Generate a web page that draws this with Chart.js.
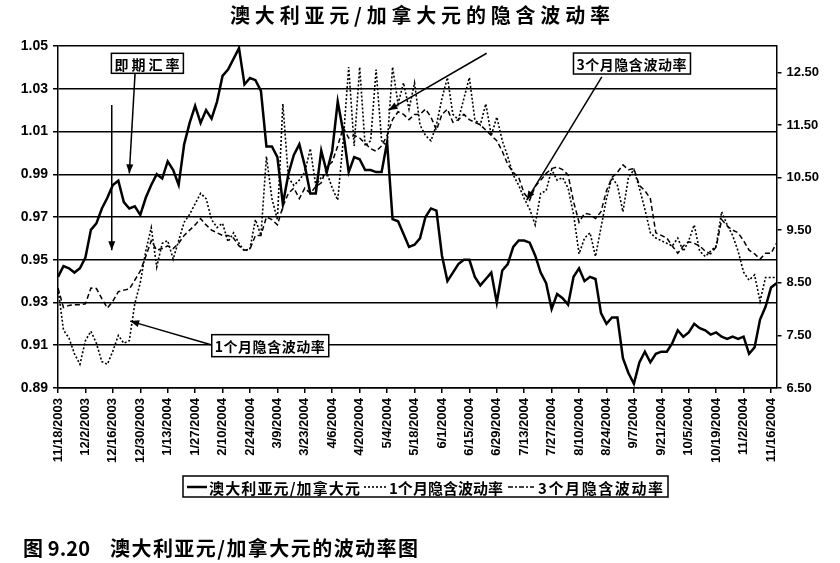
<!DOCTYPE html>
<html>
<head>
<meta charset="utf-8">
<script src="https://cdn.jsdelivr.net/npm/chart.js@4.4.1/dist/chart.umd.min.js"></script>
<style>
  html, body { margin: 0; padding: 0; background: #fff; }
</style>
</head>
<body>
<canvas id="volChart" width="840" height="563"></canvas>
<script>
// tick labels of the x axis, one every 10 business days
const tickLabels = ['11/18/2003', '12/2/2003', '12/16/2003', '12/30/2003', '1/13/2004', '1/27/2004',
  '2/10/2004', '2/24/2004', '3/9/2004', '3/23/2004', '4/6/2004', '4/20/2004', '5/4/2004',
  '5/18/2004', '6/1/2004', '6/15/2004', '6/29/2004', '7/13/2004', '7/27/2004', '8/10/2004',
  '8/24/2004', '9/7/2004', '9/21/2004', '10/5/2004', '10/19/2004', '11/2/2004', '11/16/2004'];
const leftTicks = [0.89, 0.91, 0.93, 0.95, 0.97, 0.99, 1.01, 1.03, 1.05];
const rightTicks = [6.5, 7.5, 8.5, 9.5, 10.5, 11.5, 12.5];

// one value every 2 business days
const spotRate = [
  0.942, 0.947, 0.946, 0.944, 0.946, 0.951, 0.964, 0.967, 0.974, 0.979,
  0.985, 0.987, 0.977, 0.974, 0.975, 0.971, 0.979, 0.985, 0.990, 0.988,
  0.996, 0.992, 0.985, 1.004, 1.014, 1.022, 1.014, 1.020, 1.016, 1.024,
  1.036, 1.039, 1.044, 1.049, 1.032, 1.035, 1.034, 1.029, 1.003, 1.003,
  0.998, 0.976, 0.990, 0.999, 1.004, 0.994, 0.981, 0.981, 1.001, 0.991,
  1.001, 1.024, 1.010, 0.991, 0.998, 0.997, 0.992, 0.992, 0.991, 0.991,
  1.005, 0.969, 0.968, 0.962, 0.956, 0.957, 0.960, 0.970, 0.974, 0.973,
  0.952, 0.940, 0.944, 0.948, 0.950, 0.950, 0.942, 0.938, 0.941, 0.944,
  0.930, 0.945, 0.948, 0.956, 0.959, 0.959, 0.958, 0.952, 0.944, 0.939,
  0.927, 0.934, 0.932, 0.929, 0.942, 0.946, 0.940, 0.942, 0.941, 0.925,
  0.920, 0.923, 0.923, 0.904, 0.897, 0.892, 0.902, 0.907, 0.902, 0.906,
  0.907, 0.907, 0.911, 0.917, 0.914, 0.916, 0.920, 0.918, 0.917, 0.915,
  0.916, 0.914, 0.913, 0.914, 0.913, 0.914, 0.906, 0.909, 0.922, 0.928,
  0.937, 0.939
];
const vol1M = [
  8.4, 7.6, 7.45, 7.15, 6.95, 7.4, 7.58, 7.35, 7.0, 6.95,
  7.2, 7.5, 7.35, 7.4, 8.1, 8.5, 9.1, 9.55, 8.8, 9.25,
  9.3, 8.95, 9.3, 9.65, 9.8, 10.0, 10.2, 10.1, 9.7, 9.55,
  9.63, 9.28, 9.45, 9.25, 9.1, 9.15, 9.7, 9.4, 10.9, 10.1,
  9.7, 11.9, 10.5, 10.35, 10.45, 10.6, 11.05, 10.35, 10.5, 10.6,
  10.3, 10.07, 11.2, 12.6, 11.1, 12.6, 11.1, 11.2, 12.55, 11.2,
  11.1, 12.6, 11.9, 12.3, 11.8, 12.3, 11.5, 11.3, 11.2, 11.5,
  12.0, 12.4, 11.7, 11.6, 12.0, 12.4, 11.6, 11.5, 11.9, 11.3,
  11.65, 11.2, 10.9, 10.55, 10.35, 10.1, 9.9, 9.6, 10.2, 10.25,
  10.65, 10.45, 10.5, 10.3, 9.8, 9.05, 9.35, 9.45, 9.0, 9.55,
  10.1, 10.5, 10.35, 9.85, 10.5, 10.65, 10.3, 9.9, 9.45, 9.35,
  9.3, 9.25, 9.2, 9.35, 9.1, 9.3, 9.6, 9.1, 9.0, 9.1,
  9.2, 9.85, 9.6, 9.4, 9.1, 8.7, 8.55, 8.65, 8.15, 8.6,
  8.6, 8.6
];
const vol3M = [
  8.4, 8.03, 8.07, 8.08, 8.08, 8.1, 8.4, 8.39, 8.2, 8.02,
  8.15, 8.33, 8.36, 8.38, 8.55, 8.72, 9.0, 9.3, 9.12, 9.15,
  9.2, 9.15, 9.25, 9.4, 9.5, 9.6, 9.72, 9.6, 9.5, 9.45,
  9.4, 9.4, 9.35, 9.2, 9.12, 9.14, 9.4, 9.4, 9.75, 9.7,
  9.6, 9.95, 10.2, 10.3, 10.1, 10.3, 10.2, 10.33, 10.4, 10.7,
  10.8, 11.1, 11.45, 11.25, 11.3, 11.25, 11.15, 11.05, 11.0, 11.1,
  11.3, 11.6, 11.75, 11.7, 11.6, 11.7, 11.7, 11.8, 11.65, 11.4,
  11.7, 11.8, 11.55, 11.6, 11.7, 11.6, 11.55, 11.5, 11.4, 11.3,
  11.2, 11.0, 10.75, 10.6, 10.5, 10.2, 10.07, 10.33, 10.45, 10.58,
  10.67, 10.7, 10.65, 10.55, 10.04, 9.65, 9.82, 9.8, 9.72, 9.85,
  10.25, 10.5, 10.6, 10.74, 10.65, 10.67, 10.35, 10.25, 10.1, 9.45,
  9.4, 9.35, 9.2, 9.06, 9.2, 9.28, 9.25, 9.2, 9.1, 9.05,
  9.18, 9.7, 9.58, 9.5, 9.45, 9.3, 9.12, 9.05, 8.95, 9.06,
  9.06, 9.25
];

const DAYS_PER_POINT = 2;
const toPoints = arr => arr.map((v, i) => ({ x: i * DAYS_PER_POINT, y: v }));

const CJK = "'Noto Sans CJK SC', sans-serif";
const LATIN = "Arial, 'Liberation Sans', sans-serif";

// spread a text so that it fills the given width
function fitText(ctx, text, left, cy, width) {
  ctx.letterSpacing = '0px';
  const w0 = ctx.measureText(text).width;
  const n = [...text].length;
  const sp = n > 1 ? (width - w0) / (n - 1) : 0;
  ctx.letterSpacing = sp + 'px';
  ctx.textAlign = 'left';
  ctx.textBaseline = 'middle';
  ctx.fillText(text, left, cy);
  ctx.letterSpacing = '0px';
}

function arrow(ctx, x1, y1, x2, y2) {
  ctx.beginPath();
  ctx.moveTo(x1, y1);
  ctx.lineTo(x2, y2);
  ctx.stroke();
  const a = Math.atan2(y2 - y1, x2 - x1), L = 9, W = 3.5;
  ctx.beginPath();
  ctx.moveTo(x2, y2);
  ctx.lineTo(x2 - L * Math.cos(a) + W * Math.sin(a), y2 - L * Math.sin(a) - W * Math.cos(a));
  ctx.lineTo(x2 - L * Math.cos(a) - W * Math.sin(a), y2 - L * Math.sin(a) + W * Math.cos(a));
  ctx.closePath();
  ctx.fill();
}

function labelBox(ctx, text, cx, cy, w, h) {
  ctx.fillStyle = '#fff';
  ctx.fillRect(cx - w / 2, cy - h / 2, w, h);
  ctx.strokeRect(cx - w / 2, cy - h / 2, w, h);
  ctx.fillStyle = '#000';
  ctx.font = `bold 14px ${CJK}`;
  fitText(ctx, text, cx - w / 2 + 3, cy + 1, w - 7);
}

// title, callouts, legend and caption
const annotatePlugin = {
  id: 'annotate',
  afterDraw(chart) {
    const { ctx } = chart;
    const x = chart.scales.x, y = chart.scales.y;
    const px = v => x.getPixelForValue(v);
    const py = v => y.getPixelForValue(v);
    ctx.save();
    ctx.fillStyle = '#000';
    ctx.strokeStyle = '#000';

    ctx.font = `bold 20px ${CJK}`;
    fitText(ctx, '澳大利亚元/加拿大元的隐含波动率', 230, 15, 380);

    // arrows (data coordinates: business day, left axis value)
    ctx.lineWidth = 1.5;
    [
      [28.1, 1.0372, 26.0, 0.9904],
      [19.6, 1.0224, 19.6, 0.9545],
      [56.1, 0.9101, 26.3, 0.9213],
      [198.3, 1.0356, 170.9, 0.9779],
      [156.3, 1.0466, 120.5, 1.0200]
    ].forEach(([a, b, c, d]) => arrow(ctx, px(a), py(b), px(c), py(d)));

    ctx.lineWidth = 1.5;
    labelBox(ctx, '即期汇率', px(32.6), py(1.0419), 72, 20);
    labelBox(ctx, '3个月隐含波动率', px(209.3), py(1.0418), 117, 21);
    labelBox(ctx, '1个月隐含波动率', px(77.4), py(0.9098), 117, 22);

    // legend
    const ly = 487;
    ctx.lineWidth = 1.5;
    ctx.strokeRect(183, 476, 485, 21);
    ctx.beginPath();
    ctx.lineWidth = 2.5;
    ctx.moveTo(187, ly); ctx.lineTo(207, ly);
    ctx.stroke();
    ctx.lineWidth = 1.6;
    ctx.setLineDash([2, 2]);
    ctx.beginPath(); ctx.moveTo(364, ly); ctx.lineTo(386, ly); ctx.stroke();
    ctx.setLineDash([5, 2, 2, 2]);
    ctx.beginPath(); ctx.moveTo(508, ly); ctx.lineTo(534, ly); ctx.stroke();
    ctx.setLineDash([]);
    ctx.font = `bold 15px ${CJK}`;
    fitText(ctx, '澳大利亚元/加拿大元', 209, ly + 1, 151);
    fitText(ctx, '1个月隐含波动率', 389, ly + 1, 114);
    fitText(ctx, '3个月隐含波动率', 538, ly + 1, 125);

    // caption under the chart
    ctx.font = `bold 20px ${CJK}`;
    fitText(ctx, '图 9.20', 23, 548, 67);
    fitText(ctx, '澳大利亚元/加拿大元的波动率图', 110, 548, 308);
    ctx.restore();
  }
};

new Chart(document.getElementById('volChart'), {
  type: 'line',
  data: {
    datasets: [
      {
        label: '澳大利亚元/加拿大元',
        data: toPoints(spotRate),
        yAxisID: 'y',
        borderColor: '#000',
        borderWidth: 2.5
      },
      {
        label: '1个月隐含波动率',
        data: toPoints(vol1M),
        yAxisID: 'y1',
        borderColor: '#000',
        borderWidth: 1.6,
        borderDash: [2, 2]
      },
      {
        label: '3个月隐含波动率',
        data: toPoints(vol3M),
        yAxisID: 'y1',
        borderColor: '#000',
        borderWidth: 1.5,
        borderDash: [5, 3]
      }
    ]
  },
  options: {
    responsive: false,
    animation: false,
    layout: { padding: { top: 46, left: 0, right: 0, bottom: 0 } },
    elements: { point: { radius: 0 }, line: { tension: 0 } },
    plugins: {
      legend: { display: false },
      title: { display: false },
      tooltip: { enabled: false }
    },
    scales: {
      x: {
        type: 'linear',
        min: 0,
        max: 262,
        afterBuildTicks: s => { s.ticks = tickLabels.map((_, i) => ({ value: i * 10 })); },
        afterFit: s => { s.height = 175; },
        grid: { drawOnChartArea: false, color: '#000', lineWidth: 1.5, tickLength: 5 },
        border: { color: '#000', width: 1.5 },
        ticks: {
          autoSkip: false,
          minRotation: 90,
          maxRotation: 90,
          padding: 5,
          color: '#000',
          font: { family: LATIN, size: 13, weight: 'bold' },
          callback: v => tickLabels[Math.round(v / 10)]
        }
      },
      y: {
        position: 'left',
        min: 0.89,
        max: 1.05,
        afterBuildTicks: s => { s.ticks = leftTicks.map(v => ({ value: v })); },
        afterFit: s => { s.width = 58; },
        grid: { color: '#000', lineWidth: 1.5, tickLength: 5 },
        border: { color: '#000', width: 1.5 },
        ticks: {
          padding: 5,
          color: '#000',
          font: { family: LATIN, size: 14, weight: 'bold' },
          callback: v => v.toFixed(2)
        }
      },
      y1: {
        position: 'right',
        min: 6.5,
        max: 13,
        afterBuildTicks: s => { s.ticks = rightTicks.map(v => ({ value: v })); },
        afterFit: s => { s.width = 63.5; },
        grid: { drawOnChartArea: false, color: '#000', lineWidth: 1.5, tickLength: 5 },
        border: { color: '#000', width: 1.5 },
        ticks: {
          padding: 5,
          color: '#000',
          font: { family: LATIN, size: 13, weight: 'bold' },
          callback: v => v.toFixed(2)
        }
      }
    }
  },
  plugins: [annotatePlugin]
});
</script>
</body>
</html>
